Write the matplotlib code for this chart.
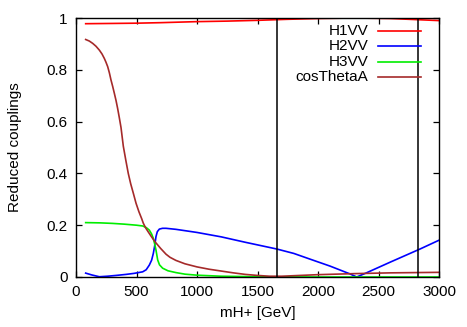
import matplotlib
matplotlib.use("Agg")
import matplotlib.pyplot as plt
from matplotlib.lines import Line2D

plt.rcParams['font.family'] = ['Liberation Sans', 'DejaVu Sans']

# ---- data ----
h1_x = [80, 300, 500, 700, 1000, 1250, 1500, 1750, 2000, 2150, 2300, 2450, 2600, 2800, 3000]
h1_y = [0.978, 0.979, 0.980, 0.982, 0.986, 0.988, 0.991, 0.995, 0.998, 0.999, 1.000, 0.999, 0.998, 0.994, 0.990]

h2_x = [80, 130, 193, 260, 330, 413, 480, 551, 580, 606, 625, 639, 650, 661, 672, 689,
        715, 744, 826, 1000, 1200, 1400, 1660, 1800, 1934, 2100, 2264, 2320, 2400, 2600, 2843, 3000]
h2_y = [0.015, 0.008, 0.001, 0.003, 0.006, 0.010, 0.014, 0.020, 0.028, 0.046, 0.065, 0.091, 0.120, 0.156, 0.175, 0.185,
        0.188, 0.188, 0.184, 0.172, 0.155, 0.134, 0.108, 0.091, 0.069, 0.042, 0.012, 0.000, 0.016, 0.058, 0.108, 0.142]

h3_x = [80, 200, 300, 400, 500, 551, 580, 606, 625, 639, 650, 661, 675, 690, 716, 760, 826, 900, 1000, 1200, 1500, 2000, 3000]
h3_y = [0.210, 0.209, 0.207, 0.204, 0.200, 0.197, 0.191, 0.181, 0.166, 0.149, 0.128, 0.104, 0.066, 0.047, 0.034, 0.024, 0.017, 0.011, 0.007, 0.003, 0.001, 0.000, 0.000]

cos_x = [80, 110, 138, 165, 193, 215, 234, 248, 262, 276, 289, 303, 317, 331, 344, 358, 372, 391, 412, 432, 452, 474, 496, 520, 543, 556, 575, 600, 620, 653, 700, 744, 777, 826,
         900, 1000, 1100, 1200, 1300, 1400, 1500, 1600, 1700, 1850, 2000, 2300, 2600, 3000]
cos_y = [0.917, 0.911, 0.902, 0.891, 0.876, 0.861, 0.844, 0.829, 0.812, 0.788, 0.761, 0.736, 0.709, 0.681, 0.651, 0.615, 0.577, 0.505, 0.450, 0.400, 0.360, 0.323, 0.285, 0.252, 0.225, 0.208, 0.190, 0.172, 0.158, 0.136, 0.110, 0.088, 0.076, 0.064,
         0.051, 0.039, 0.030, 0.023, 0.016, 0.010, 0.006, 0.003, 0.003, 0.006, 0.009, 0.013, 0.016, 0.018]

vlines_x = [1660, 2830]

series = [
    ("H1VV", h1_x, h1_y, "#ff0000"),
    ("H2VV", h2_x, h2_y, "#0000ff"),
    ("H3VV", h3_x, h3_y, "#00ee00"),
    ("cosThetaA", cos_x, cos_y, "#a52a2a"),
]

xticks = [0, 500, 1000, 1500, 2000, 2500, 3000]
yticks = [0, 0.2, 0.4, 0.6, 0.8, 1.0]
ytick_labels = ["0", "0.2", "0.4", "0.6", "0.8", "1"]

fig = plt.figure(figsize=(4.67, 3.27), dpi=100)
ax = fig.add_axes([76 / 467, 1 - 277 / 327, (439 - 76) / 467, (277 - 18) / 327])

for name, xs, ys, c in series:
    ax.plot(xs, ys, color=c, lw=1.2, solid_joinstyle='round')

for vx in vlines_x:
    ax.axvline(vx, color='black', lw=1.1)

ax.set_xlim(0, 3000)
ax.set_ylim(0, 1)
ax.set_xticks(xticks)
ax.set_yticks(yticks)
ax.set_yticklabels(ytick_labels)
ax.tick_params(direction='in', length=4.5, width=0.9, top=True, right=True,
               labelsize=11, pad=6)
for sp in ax.spines.values():
    sp.set_linewidth(1.0)

ax.set_xlabel("mH+ [GeV]", fontsize=11, labelpad=5)
ax.set_ylabel("Reduced couplings", fontsize=11, labelpad=18)

# legend (gnuplot style: right-aligned text, sample to the right)
leg_text_x = (368 - 76) / 363
leg_l0 = (378 - 76) / 363
leg_l1 = (421 - 76) / 363
row_px = [31, 46.3, 61.6, 77]
for (name, xs, ys, c), rp in zip(series, row_px):
    yy = (277 - rp) / 259
    ax.text(leg_text_x, yy, name, transform=ax.transAxes, ha='right', va='center', fontsize=11)
    ax.add_line(Line2D([leg_l0, leg_l1], [yy, yy], transform=ax.transAxes, color=c, lw=1.2))

fig.savefig("out.png", dpi=100)
